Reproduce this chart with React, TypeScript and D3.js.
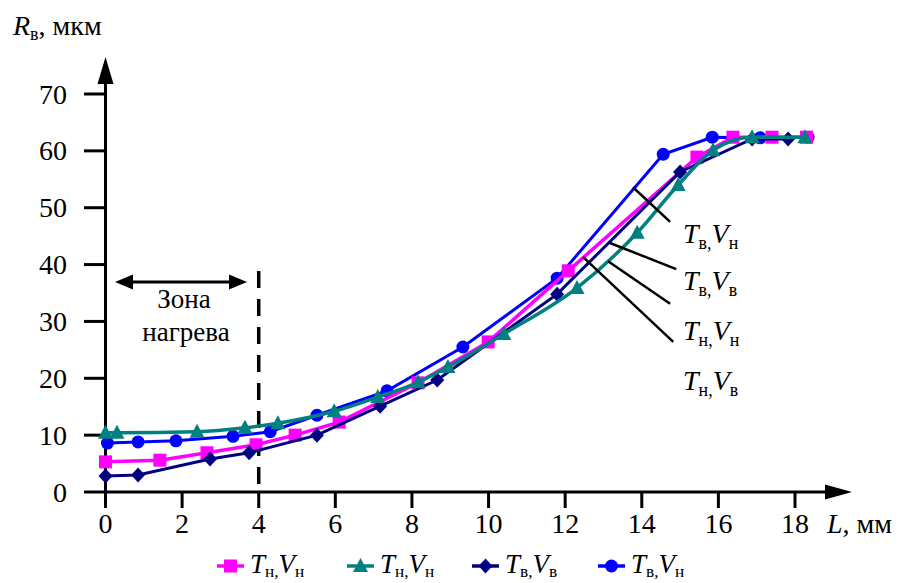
import React from "react";
import * as d3 from "d3";

const xTicks = [0, 2, 4, 6, 8, 10, 12, 14, 16, 18];
const yTicks = [0, 10, 20, 30, 40, 50, 60, 70];

// Тн,Vн (magenta squares)
const magX = [0, 1.42, 2.65, 3.93, 4.95, 6.1, 8.16, 9.99, 12.08, 15.44, 16.38, 17.4, 18.3];
const magY = [5.3, 5.6, 6.9, 8.3, 10.0, 12.3, 19.2, 26.4, 38.9, 58.9, 62.4, 62.4, 62.4];
// Тн,Vн (teal triangles)
const tealX = [0, 0.3, 2.39, 3.64, 4.5, 5.97, 7.11, 8.16, 8.94, 10.4, 12.31, 13.88, 14.95, 15.86, 16.88, 18.26];
const tealY = [10.4, 10.4, 10.6, 11.3, 12.1, 14.2, 16.7, 19.3, 22.0, 27.8, 35.9, 45.6, 54.0, 60.1, 62.4, 62.4];
// Тв,Vв (navy diamonds)
const navyX = [0, 0.85, 2.73, 3.75, 5.52, 7.17, 8.66, 11.79, 15.0, 16.88, 17.82];
const navyY = [2.8, 3.0, 5.8, 6.9, 10.0, 15.1, 19.7, 34.8, 56.3, 62.1, 62.1];
// Тв,Vн (blue circles)
const blueX = [0.05, 0.85, 1.84, 3.33, 4.3, 5.52, 7.35, 9.33, 11.79, 14.56, 15.84, 17.09, 18.34];
const blueY = [8.6, 8.8, 9.0, 9.8, 10.6, 13.5, 17.8, 25.5, 37.6, 59.4, 62.4, 62.3, 62.4];

// annotation leader lines [x1, y1, x2, y2] in data units
const leaders = [
  [13.77, 53.6, 14.74, 47.5],
  [13.17, 43.8, 14.9, 39.2],
  [13.12, 40.6, 14.74, 33.1],
  [12.47, 41.3, 14.82, 26.4],
];
const annLabels = [
  ["в", "н"],
  ["в", "в"],
  ["н", "н"],
  ["н", "в"],
];
const annLabelY = [43.8, 35.5, 26.7, 17.9];
const legendSubs = [
  ["н", "н"],
  ["н", "н"],
  ["в", "в"],
  ["в", "н"],
];

const FONT = "'Liberation Serif', 'Times New Roman', Times, serif";

const x = d3.scaleLinear().domain([0, 18]).range([105.5, 795]);
const y = d3.scaleLinear().domain([0, 70]).range([492, 94]);

type Sym = "square" | "triangle" | "diamond" | "circle";

function Marker({ cx, cy, sym, color }: { cx: number; cy: number; sym: Sym; color: string }) {
  if (sym === "square") return <rect x={cx - 6.5} y={cy - 6.5} width={13} height={13} fill={color} />;
  if (sym === "circle") return <circle cx={cx} cy={cy} r={6.5} fill={color} />;
  if (sym === "triangle")
    return <path d={`M${cx},${cy - 8} L${cx + 7.5},${cy + 6} L${cx - 7.5},${cy + 6} Z`} fill={color} />;
  return <path d={`M${cx},${cy - 7.5} L${cx + 7},${cy} L${cx},${cy + 7.5} L${cx - 7},${cy} Z`} fill={color} />;
}

function TV({ px, py, s1, s2, size, sh }: { px: number; py: number; s1: string; s2: string; size: number; sh: number }) {
  const sub = size * 0.64;
  return (
    <text x={px} y={py} fontSize={size} fill="#000">
      <tspan fontStyle="italic">T</tspan>
      <tspan fontSize={sub} dy={sh}>{s1},</tspan>
      <tspan fontStyle="italic" dy={-sh}>V</tspan>
      <tspan fontSize={sub} dy={sh}>{s2}</tspan>
    </text>
  );
}

const series: { xs: number[]; ys: number[]; color: string; sym: Sym; smooth: boolean; w: number }[] = [
  { xs: blueX, ys: blueY, color: "#0000FF", sym: "circle", smooth: false, w: 3 },
  { xs: magX, ys: magY, color: "#FF00FF", sym: "square", smooth: false, w: 3.5 },
  { xs: navyX, ys: navyY, color: "#000080", sym: "diamond", smooth: false, w: 3 },
  { xs: tealX, ys: tealY, color: "#008080", sym: "triangle", smooth: true, w: 3.5 },
];

const legendItems: { color: string; sym: Sym; x0: number }[] = [
  { color: "#FF00FF", sym: "square", x0: 217 },
  { color: "#008080", sym: "triangle", x0: 347 },
  { color: "#000080", sym: "diamond", x0: 472 },
  { color: "#0000FF", sym: "circle", x0: 598 },
];

export default function App() {
  const line = (smooth: boolean) =>
    d3
      .line<[number, number]>()
      .x((d) => x(d[0]))
      .y((d) => y(d[1]))
      .curve(smooth ? d3.curveMonotoneX : d3.curveLinear);

  const x0 = x(0);
  const y0 = y(0);

  return (
    <svg
      width={901}
      height={583}
      style={{ position: "absolute", left: 0, top: 0, background: "#fff", fontFamily: FONT }}
    >
      <rect width={901} height={583} fill="#fff" />
      {/* y axis title */}
      <text x={13} y={35} fontSize={28}>
        <tspan fontStyle="italic">R</tspan>
        <tspan fontSize={18} dy={5}>в</tspan>
        <tspan dy={-5}>, мкм</tspan>
      </text>
      {/* axes */}
      <line x1={x0} y1={y0 + 1.5} x2={x0} y2={80} stroke="#000" strokeWidth={3} />
      <path d={`M${x0},57 L${x0 + 8},84 L${x0 - 8},84 Z`} fill="#000" />
      <line x1={x0 - 1.5} y1={y0} x2={828} y2={y0} stroke="#000" strokeWidth={3} />
      <path d={`M852,${y0} L825,${y0 - 7.5} L825,${y0 + 7.5} Z`} fill="#000" />
      {yTicks.map((t) => (
        <g key={"y" + t}>
          <line x1={84} x2={x0} y1={y(t)} y2={y(t)} stroke="#000" strokeWidth={3} />
          <text x={67} y={y(t) + 9.5} textAnchor="end" fontSize={28}>
            {t}
          </text>
        </g>
      ))}
      {xTicks.map((t) => (
        <g key={"x" + t}>
          <line x1={x(t)} x2={x(t)} y1={y0} y2={y0 + 16} stroke="#000" strokeWidth={3} />
          <text x={x(t)} y={533} textAnchor="middle" fontSize={28}>
            {t}
          </text>
        </g>
      ))}
      <text x={827} y={533} fontSize={28}>
        <tspan fontStyle="italic">L</tspan>
        <tspan>, мм</tspan>
      </text>
      {/* heating zone */}
      <line x1={x(4)} x2={x(4)} y1={271} y2={y0} stroke="#000" strokeWidth={3.5} strokeDasharray="17 11" />
      <line x1={125} x2={237} y1={282} y2={282} stroke="#000" strokeWidth={3} />
      <path d={`M115,282 L133,274.5 L133,289.5 Z`} fill="#000" />
      <path d={`M247,282 L229,274.5 L229,289.5 Z`} fill="#000" />
      <text x={184} y={308} textAnchor="middle" fontSize={27}>
        Зона
      </text>
      <text x={186} y={341} textAnchor="middle" fontSize={27}>
        нагрева
      </text>
      {/* series */}
      {series.map((s, i) => {
        const pts: [number, number][] = s.xs.map((v, j) => [v, s.ys[j]]);
        return (
          <g key={"s" + i}>
            <path d={line(s.smooth)(pts) || ""} fill="none" stroke={s.color} strokeWidth={s.w} />
            {pts.map((p, j) => (
              <Marker key={j} cx={x(p[0])} cy={y(p[1])} sym={s.sym} color={s.color} />
            ))}
          </g>
        );
      })}
      {/* leader lines and labels */}
      {leaders.map((l, i) => (
        <line key={"l" + i} x1={x(l[0])} y1={y(l[1])} x2={x(l[2])} y2={y(l[3])} stroke="#000" strokeWidth={2.5} />
      ))}
      {annLabels.map((s, i) => (
        <TV key={"a" + i} px={683} py={y(annLabelY[i])} s1={s[0]} s2={s[1]} size={28} sh={6} />
      ))}
      {/* legend */}
      {legendItems.map((it, i) => (
        <g key={"lg" + i}>
          <line x1={it.x0} x2={it.x0 + 27} y1={566} y2={566} stroke={it.color} strokeWidth={3.5} />
          <Marker cx={it.x0 + 13.5} cy={566} sym={it.sym} color={it.color} />
          <TV px={it.x0 + 33} py={573} s1={legendSubs[i][0]} s2={legendSubs[i][1]} size={27} sh={4} />
        </g>
      ))}
    </svg>
  );
}
